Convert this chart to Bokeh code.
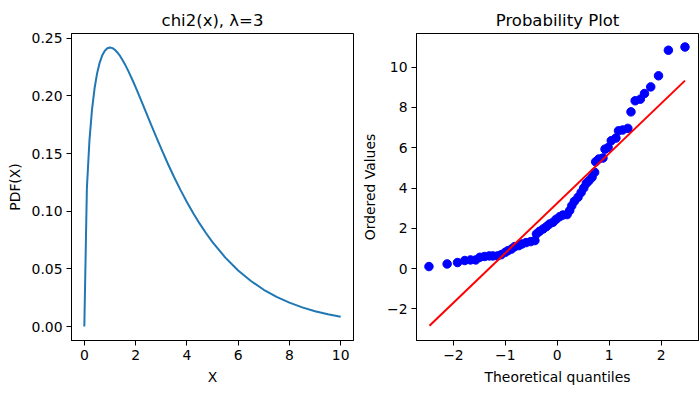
from bokeh.plotting import figure
from bokeh.layouts import row
from bokeh.models import FixedTicker, Range1d, BoxAnnotation
from bokeh.embed import file_html
from bokeh.resources import INLINE

# ---- left panel: chi2 pdf (df=3) ----
pdf_x = [0, 0.1, 0.2, 0.3, 0.4, 0.5, 0.6, 0.7, 0.8, 0.9, 1.0, 1.1, 1.2, 1.3, 1.4, 1.5,
         1.6, 1.7, 1.8, 1.9, 2.0, 2.2, 2.4, 2.6, 2.8, 3.0, 3.25, 3.5, 3.75, 4.0, 4.25,
         4.5, 4.75, 5.0, 5.5, 6.0, 6.5, 7.0, 7.5, 8.0, 8.5, 9.0, 9.5, 10.0]
pdf_y = [0.0, 0.1200, 0.1614, 0.1881, 0.2066, 0.2197, 0.2289, 0.2352, 0.2392, 0.2413,
         0.2420, 0.2414, 0.2398, 0.2374, 0.2344, 0.2307, 0.2267, 0.2223, 0.2176, 0.2127,
         0.2076, 0.1970, 0.1862, 0.1753, 0.1646, 0.1542, 0.1416, 0.1297, 0.1185, 0.1080,
         0.0982, 0.0892, 0.0809, 0.0732, 0.0598, 0.0486, 0.0395, 0.0319, 0.0257, 0.0207,
         0.0166, 0.0133, 0.0106, 0.0085]
left_xticks = [0, 2, 4, 6, 8, 10]
left_yticks = [0.0, 0.05, 0.10, 0.15, 0.20, 0.25]
left_ytick_labels = ["0.00", "0.05", "0.10", "0.15", "0.20", "0.25"]

# ---- right panel: probability plot ----
q_x = [-2.47, -2.12, -1.92, -1.78, -1.67, -1.57, -1.49, -1.40, -1.31, -1.24, -1.15,
       -1.08, -1.00, -0.95, -0.88, -0.82, -0.74, -0.68, -0.60, -0.51, -0.43, -0.40,
       -0.34, -0.27, -0.21, -0.15, -0.08, -0.02, 0.05, 0.11, 0.19, 0.24, 0.28, 0.33,
       0.40, 0.46, 0.51, 0.56, 0.61, 0.67, 0.72, 0.74, 0.80, 0.88, 0.92, 0.98, 1.04,
       1.13, 1.18, 1.26, 1.36, 1.42, 1.50, 1.60, 1.68, 1.80, 1.95, 2.14, 2.46]
q_y = [0.10, 0.23, 0.30, 0.40, 0.43, 0.43, 0.56, 0.60, 0.63, 0.63, 0.63, 0.69, 0.81,
       0.89, 0.97, 1.09, 1.14, 1.22, 1.29, 1.34, 1.39, 1.72, 1.85, 1.97, 2.08, 2.21,
       2.30, 2.45, 2.58, 2.66, 2.68, 2.88, 3.12, 3.34, 3.54, 3.78, 4.00, 4.23, 4.36,
       4.53, 4.78, 5.30, 5.44, 5.49, 5.93, 6.01, 6.35, 6.48, 6.84, 6.88, 6.96, 7.78,
       8.33, 8.41, 8.69, 9.02, 9.57, 10.84, 11.00]
fit_x = [-2.46, 2.46]
fit_y = [-2.84, 9.33]
right_xticks = [-2, -1, 0, 1, 2]
right_xtick_labels = ["\u22122", "\u22121", "0", "1", "2"]
right_yticks = [-2, 0, 2, 4, 6, 8, 10]
right_ytick_labels = ["\u22122", "0", "2", "4", "6", "8", "10"]

FONT = "DejaVu Sans"


def style(p, xticks, xlabels, yticks, ylabels):
    p.xgrid.visible = False
    p.ygrid.visible = False
    p.outline_line_color = "black"
    p.outline_line_width = 1
    p.outline_line_alpha = 1
    p.background_fill_color = "white"
    p.border_fill_color = "white"
    p.add_layout(BoxAnnotation(fill_color=None, line_color="black", line_width=1,
                               line_alpha=1))
    p.title.align = "center"
    p.title.text_font = FONT
    p.title.text_font_size = "16.5px"
    p.title.text_font_style = "normal"
    p.title.text_color = "black"
    p.title.standoff = 8
    p.xaxis.ticker = FixedTicker(ticks=xticks)
    p.yaxis.ticker = FixedTicker(ticks=yticks)
    p.xaxis.major_label_overrides = {t: l for t, l in zip(xticks, xlabels)}
    p.yaxis.major_label_overrides = {t: l for t, l in zip(yticks, ylabels)}
    for ax in (p.xaxis, p.yaxis):
        ax.axis_line_color = "black"
        ax.axis_line_width = 1
        ax.major_tick_in = 0
        ax.major_tick_out = 5
        ax.major_tick_line_color = "black"
        ax.minor_tick_line_color = None
        ax.major_label_text_font = FONT
        ax.major_label_text_font_size = "13.9px"
        ax.major_label_text_color = "black"
        ax.major_label_standoff = 4
        ax.axis_label_text_font = FONT
        ax.axis_label_text_font_size = "13.9px"
        ax.axis_label_text_font_style = "normal"
        ax.axis_label_text_color = "black"
        ax.axis_label_standoff = 6


p1 = figure(frame_width=282, frame_height=307, output_backend="svg",
            toolbar_location=None, title="chi2(x), \u03bb=3",
            x_range=Range1d(-0.5, 10.5), y_range=Range1d(-0.0121, 0.2541),
            min_border_left=71, min_border_right=6, min_border_top=33,
            min_border_bottom=50, x_axis_label="X", y_axis_label="PDF(X)")
p1.line(pdf_x, pdf_y, line_color="#1f77b4", line_width=2)
style(p1, left_xticks, [str(t) for t in left_xticks], left_yticks, left_ytick_labels)

p2 = figure(frame_width=282, frame_height=307, output_backend="svg",
            toolbar_location=None, title="Probability Plot",
            x_range=Range1d(-2.71, 2.72), y_range=Range1d(-3.57, 11.67),
            min_border_left=50, min_border_right=1, min_border_top=33,
            min_border_bottom=50, x_axis_label="Theoretical quantiles",
            y_axis_label="Ordered Values")
p2.scatter(q_x, q_y, size=8.5, fill_color="#0000ff", line_color="#0000ff")
p2.line(fit_x, fit_y, line_color="#ff0000", line_width=2)
style(p2, right_xticks, right_xtick_labels, right_yticks, right_ytick_labels)

layout = row(p1, p2)
open("out.html", "w").write(file_html(layout, INLINE))
